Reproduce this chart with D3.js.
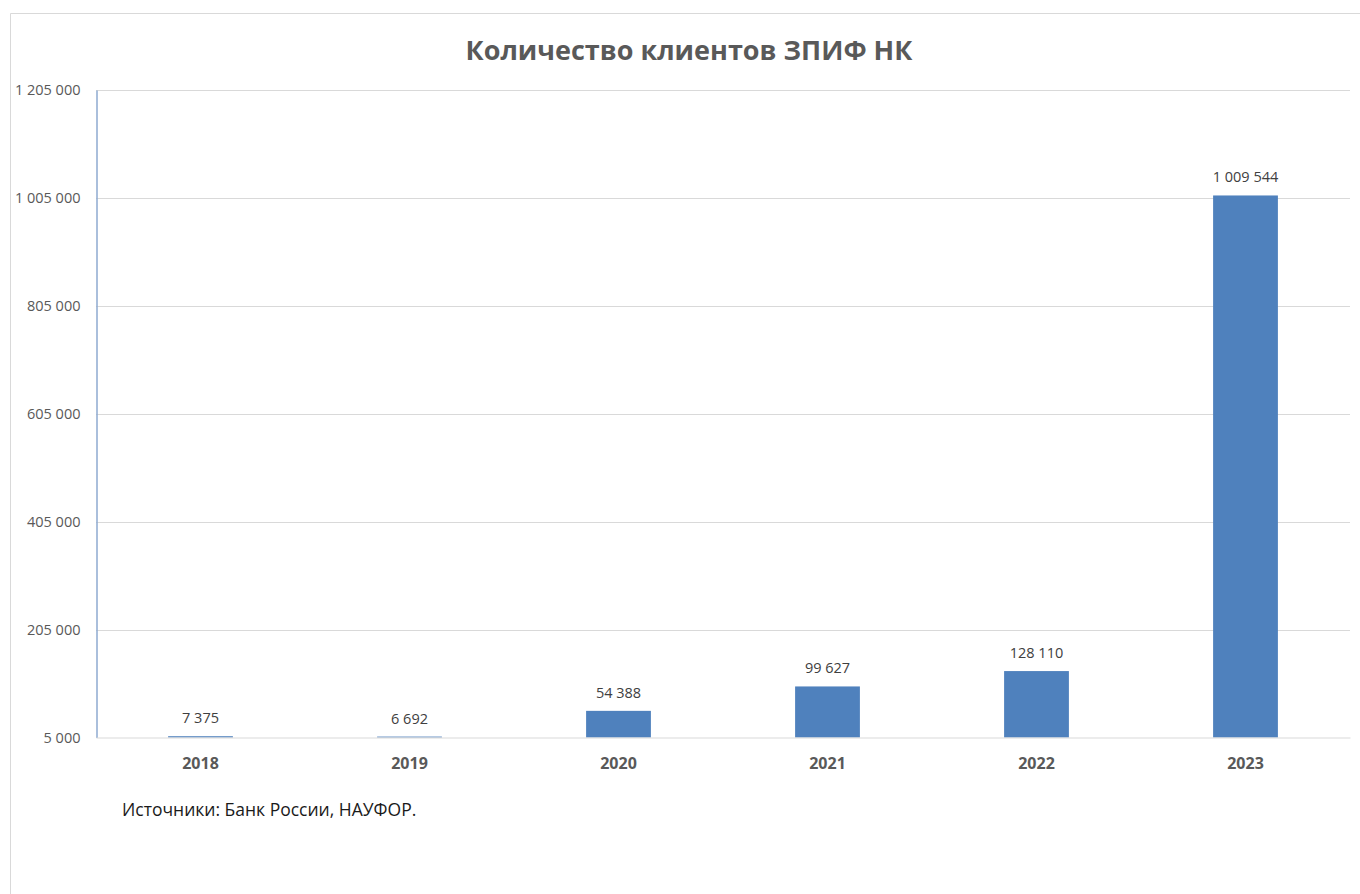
<!DOCTYPE html>
<html>
<head>
<meta charset="utf-8">
<script src="https://cdn.jsdelivr.net/npm/d3@7"></script>
<style>
  html, body { margin: 0; padding: 0; background: #ffffff; }
  svg { display: block; }
</style>
</head>
<body>
<svg id="chart" width="1360" height="894"></svg>
<script>
// Chart data
const years = ["2018", "2019", "2020", "2021", "2022", "2023"];
const clients = [7375, 6692, 54388, 99627, 128110, 1009544];
const yTicks = [5000, 205000, 405000, 605000, 805000, 1005000, 1205000];
const titleText = "Количество клиентов ЗПИФ НК";
const sourceText = "Источники: Банк России, НАУФОР.";

const svg = d3.select("#chart");
const W = 1360, H = 894;
const margin = { left: 96, right: 10, top: 90, bottom: 156 };
const fontFamily = "'Open Sans', 'Noto Sans', 'Liberation Sans', sans-serif";

// Frame of the chart area
svg.append("path")
  .attr("d", `M10.5,${H} V13.5 H${W}`)
  .attr("fill", "none")
  .attr("stroke", "#d9d9d9")
  .attr("stroke-width", 1);

const x = d3.scaleBand()
  .domain(years)
  .range([margin.left, W - margin.right])
  .paddingInner(0.69)
  .paddingOuter(0.345);

const y = d3.scaleLinear()
  .domain([5000, 1205000])
  .range([H - margin.bottom - 0.5, margin.top]);

const fmt = v => d3.format(",")(v).replace(/,/g, " ");

// Horizontal gridlines
svg.append("g")
  .selectAll("line")
  .data(yTicks.slice(1))
  .join("line")
  .attr("x1", margin.left)
  .attr("x2", W - margin.right)
  .attr("y1", d => Math.round(y(d)) + 0.5)
  .attr("y2", d => Math.round(y(d)) + 0.5)
  .attr("stroke", "#d9d9d9")
  .attr("stroke-width", 1);

// Y axis
const yAxis = svg.append("g")
  .attr("transform", `translate(${margin.left + 0.5},0)`)
  .call(d3.axisLeft(y).tickValues(yTicks).tickFormat(fmt).tickSize(0).tickPadding(16));
yAxis.select(".domain").attr("stroke", "#8eaad0").attr("stroke-width", 1.5);
yAxis.selectAll("text")
  .attr("fill", "#595959")
  .style("font-family", fontFamily)
  .style("font-size", "14.5px");

// Bars
svg.append("g")
  .selectAll("rect")
  .data(years.map((yr, i) => ({ yr, v: clients[i] })))
  .join("rect")
  .attr("x", d => x(d.yr))
  .attr("width", x.bandwidth())
  .attr("y", d => y(d.v))
  .attr("height", d => y(5000) - y(d.v))
  .attr("fill", "#4f81bd");

// Value labels
svg.append("g")
  .selectAll("text")
  .data(years.map((yr, i) => ({ yr, v: clients[i] })))
  .join("text")
  .attr("x", d => x(d.yr) + x.bandwidth() / 2)
  .attr("y", d => y(d.v) - 13)
  .attr("text-anchor", "middle")
  .attr("fill", "#404040")
  .style("font-family", fontFamily)
  .style("font-size", "14.5px")
  .text(d => fmt(d.v));

// X axis
const xAxis = svg.append("g")
  .attr("transform", `translate(0,${y(5000)})`)
  .call(d3.axisBottom(x).tickSize(0).tickPadding(20));
xAxis.select(".domain").attr("stroke", "#d9d9d9").attr("stroke-width", 1);
xAxis.selectAll("text")
  .attr("fill", "#595959")
  .style("font-family", fontFamily)
  .style("font-size", "16px")
  .style("font-weight", "bold");

// Title
svg.append("text")
  .attr("x", 689)
  .attr("y", 60)
  .attr("text-anchor", "middle")
  .attr("fill", "#595959")
  .style("font-family", fontFamily)
  .style("font-size", "27px")
  .style("font-weight", "bold")
  .text(titleText);

// Source note
svg.append("text")
  .attr("x", 122)
  .attr("y", 816)
  .attr("fill", "#1a1a1a")
  .style("font-family", fontFamily)
  .style("font-size", "17.5px")
  .text(sourceText);
</script>
</body>
</html>
